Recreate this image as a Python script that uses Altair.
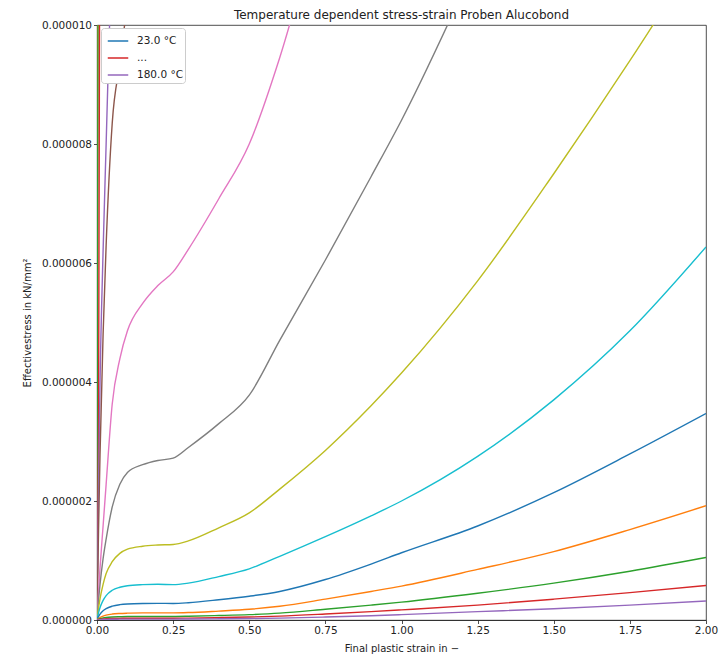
import altair as alt
import pandas as pd

# strain grid (x)
X = [0, 0.005, 0.01, 0.02, 0.03, 0.05, 0.075, 0.1, 0.15, 0.2, 0.25, 0.3, 0.4, 0.5,
     0.6, 0.75, 0.9, 1.0, 1.25, 1.5, 1.75, 2.0]

# series names (curve order = matplotlib colour cycle order)
NAMES = ["23.0 °C", "30.0 °C", "40.0 °C", "...", "60.0 °C", "70.0 °C", "80.0 °C",
         "90.0 °C", "100.0 °C", "110.0 °C", "120.0 °C", "135.0 °C", "150.0 °C",
         "165.0 °C", "180.0 °C"]

# effective stress values in 1e-6 kN/mm^2
S00 = [0, 30, 55, 80, 95, 110, 120, 125, 130, 135, 140, 150, 160, 170, 180, 200, 220, 230, 260, 290, 320, 350]
S01 = [0, 22, 40, 60, 72, 85, 92, 96, 100, 104, 108, 115, 125, 135, 145, 160, 175, 185, 210, 235, 260, 285]
S02 = [0, 16, 29, 44, 54, 64, 70, 74, 78, 81, 84, 90, 98, 106, 115, 128, 140, 150, 170, 190, 210, 230]
S03 = [0, 3.0, 14, 22, 27, 32, 35, 37, 39, 41, 43, 46, 52, 58, 65, 75, 85, 92, 108, 125, 142, 160]
S04 = [0, 2.2, 4.0, 6.2, 8.0, 11.5, 14, 15.5, 17, 17.8, 18.4, 19.3, 21.5, 24, 27, 33, 39, 43, 53, 64, 76, 88]
S05 = [0, 1.5, 2.8, 4.8, 6.3, 8.35, 9.35, 10.35, 11.2, 11.7, 12.0, 12.8, 14.4, 16.2, 19.5, 25, 31, 35, 45, 56, 68, 80]
S06 = [0, 0.47, 0.88, 1.58, 2.28, 3.63, 4.39, 4.86, 5.32, 5.62, 5.85, 6.23, 7.08, 8.0, 9.45, 12.2, 15, 17, 22, 28, 34, 41]
S07 = [0, 0.33, 0.6, 1.03, 1.36, 1.9, 2.28, 2.48, 2.61, 2.68, 2.72, 2.9, 3.3, 3.78, 4.7, 6.05, 7.45, 8.4, 11.1, 14.0, 17.0, 20.0]
S08 = [0, 0.2, 0.36, 0.6, 0.78, 0.98, 1.12, 1.19, 1.24, 1.26, 1.27, 1.33, 1.55, 1.8, 2.2, 2.85, 3.6, 4.15, 5.7, 7.5, 9.4, 11.4]
S09 = [0, 0.12, 0.21, 0.33, 0.41, 0.5, 0.55, 0.576, 0.594, 0.6, 0.595, 0.62, 0.73, 0.86, 1.07, 1.4, 1.75, 2.0, 2.75, 3.7, 4.86, 6.27]
S10 = [0, 0.056, 0.098, 0.154, 0.19, 0.232, 0.258, 0.27, 0.278, 0.28, 0.278, 0.29, 0.34, 0.4, 0.48, 0.68, 0.94, 1.13, 1.58, 2.14, 2.79, 3.47]
S11 = [0, 0.024, 0.042, 0.066, 0.082, 0.1, 0.11, 0.115, 0.119, 0.12, 0.12, 0.125, 0.15, 0.18, 0.23, 0.35, 0.48, 0.57, 0.85, 1.15, 1.52, 1.92]
S12 = [0, 0.012, 0.021, 0.033, 0.041, 0.05, 0.055, 0.058, 0.06, 0.06, 0.06, 0.063, 0.075, 0.09, 0.115, 0.18, 0.25, 0.30, 0.45, 0.62, 0.82, 1.05]
S13 = [0, 0.006, 0.01, 0.016, 0.02, 0.025, 0.028, 0.029, 0.03, 0.03, 0.03, 0.032, 0.04, 0.05, 0.065, 0.1, 0.14, 0.17, 0.25, 0.35, 0.46, 0.58]
S14 = [0, 0.003, 0.005, 0.008, 0.010, 0.012, 0.014, 0.0145, 0.015, 0.015, 0.015, 0.016, 0.02, 0.025, 0.032, 0.05, 0.072, 0.09, 0.14, 0.19, 0.25, 0.32]

SERIES = [S00, S01, S02, S03, S04, S05, S06, S07, S08, S09, S10, S11, S12, S13, S14]

COLORS = ["#1f77b4", "#ff7f0e", "#2ca02c", "#d62728", "#9467bd", "#8c564b", "#e377c2",
          "#7f7f7f", "#bcbd22", "#17becf", "#1f77b4", "#ff7f0e", "#2ca02c", "#d62728", "#9467bd"]

X_TICKS = [0, 0.25, 0.5, 0.75, 1.0, 1.25, 1.5, 1.75, 2.0]
Y_TICKS = [0, 2e-6, 4e-6, 6e-6, 8e-6, 1e-5]
LEGEND_SHOWN = ["23.0 °C", "...", "180.0 °C"]

rows = []
for i, (name, ys) in enumerate(zip(NAMES, SERIES)):
    for j, (x, y) in enumerate(zip(X, ys)):
        rows.append({"strain": x, "stress": y * 1e-6, "series": name, "idx": i, "j": j})
df = pd.DataFrame(rows)

FONT = "DejaVu Sans"

chart = alt.Chart(df).mark_line(strokeWidth=1.4, clip=True, interpolate="monotone").encode(
    x=alt.X("strain:Q",
            scale=alt.Scale(domain=[0, 2], nice=False, zero=False),
            axis=alt.Axis(values=X_TICKS, format=".2f", title="Final plastic strain in  \u2212",
                          titlePadding=7, labelFlush=False)),
    y=alt.Y("stress:Q",
            scale=alt.Scale(domain=[0, 1e-5], nice=False),
            axis=alt.Axis(values=Y_TICKS, format=".6f", title="Effectivestress in kN/mm\u00b2",
                          titlePadding=9, labelFlush=False)),
    color=alt.Color("series:N",
                    scale=alt.Scale(domain=NAMES, range=COLORS),
                    legend=alt.Legend(values=LEGEND_SHOWN, title=None, orient="none",
                                      legendX=4, legendY=3, symbolType="stroke",
                                      symbolStrokeWidth=1.5, symbolSize=420,
                                      labelFontSize=10.5, labelFont=FONT, labelColor="#222",
                                      labelOffset=8,
                                      fillColor="white", strokeColor="#cccccc",
                                      padding=2, cornerRadius=3, rowPadding=-4,
                                      symbolOffset=4)),
    order=alt.Order("j:Q"),
    detail="idx:N",
).properties(
    width=609,
    height=595,
    title=alt.TitleParams("Temperature dependent stress-strain Proben Alucobond",
                          fontSize=12, fontWeight="normal", font=FONT, color="#222",
                          offset=-2, frame="group"),
    autosize=alt.AutoSizeParams(type="none"),
    padding={"left": 89, "top": 17, "right": 13, "bottom": 34},
).configure_view(
    stroke="#222", strokeWidth=0.8
).configure_axis(
    grid=False, domainColor="#222", domainWidth=0.8, tickColor="#222", tickSize=3.5,
    tickWidth=0.8, labelFont=FONT, labelFontSize=10.5, labelColor="#222",
    titleFont=FONT, titleFontSize=10, titleFontWeight="normal", titleColor="#222",
    labelPadding=2
)

chart.save("out.html", embed_options={"renderer": "svg", "actions": False})
